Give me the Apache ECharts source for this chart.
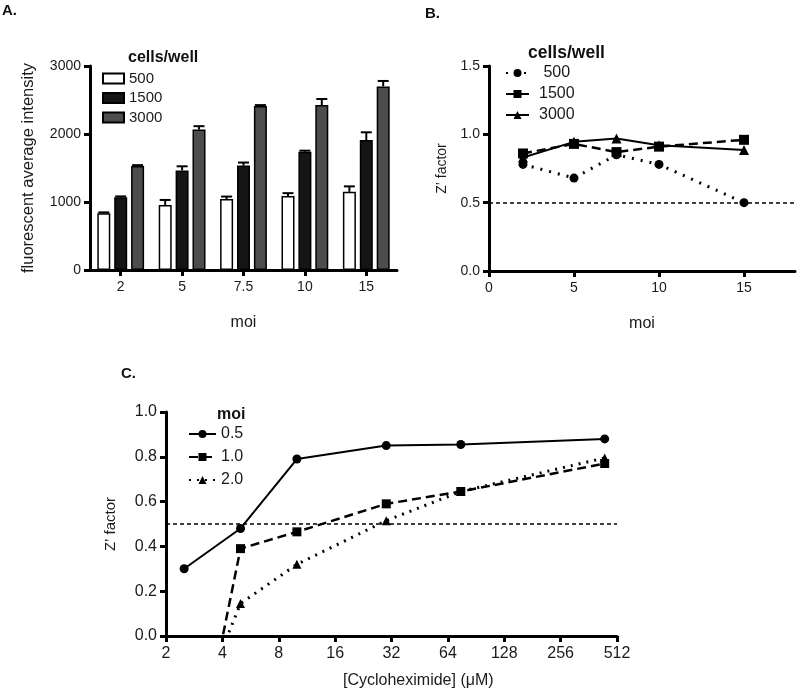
<!DOCTYPE html>
<html><head><meta charset="utf-8">
<script src="https://cdn.jsdelivr.net/npm/echarts@6/dist/echarts.min.js"></script>
<style>html,body{margin:0;padding:0;background:#fff}#c{width:800px;height:692px}</style>
</head><body><div id="c"></div>
<script>
// ---- Panel A data ----
const moiCats = ['2', '5', '7.5', '10', '15'];
const cellLabels = ['500', '1500', '3000'];
const bar500 = [835, 955, 1045, 1090, 1150];
const bar1500 = [1070, 1465, 1535, 1740, 1910];
const bar3000 = [1530, 2065, 2410, 2425, 2700];
const err500 = [12, 75, 35, 40, 80];
const err1500 = [12, 60, 45, 15, 115];
const err3000 = [12, 50, 15, 90, 80];
const yTicksA = [0, 1000, 2000, 3000];

// ---- Panel B data ----
const moiB = [2, 5, 7.5, 10, 15];
const zB500 = [0.78, 0.68, 0.85, 0.78, 0.50];
const zB1500 = [0.86, 0.93, 0.87, 0.91, 0.96];
const zB3000 = [0.83, 0.945, 0.97, 0.92, 0.885];
const xTicksB = [0, 5, 10, 15];

// ---- Panel C data ----
const moiLabels = ['0.5', '1.0', '2.0'];
const chx = [2.5, 5, 10, 30, 75, 440];
const zC05 = [0.30, 0.48, 0.79, 0.85, 0.855, 0.88];
const zC10 = [-0.85, 0.39, 0.465, 0.59, 0.645, 0.77];
const zC20 = [-0.48, 0.145, 0.32, 0.515, 0.645, 0.795];
const refZ = 0.5;

const FONT = '"Liberation Sans", Arial, Helvetica, sans-serif';
const TXT = '#1a1a1a';
const chart = echarts.init(document.getElementById('c'));

const axisLineStyle = { show: true, lineStyle: { color: '#000', width: 3 } };
const tickStyle = { show: true, length: 6, lineStyle: { color: '#000', width: 3 } };
const labelStyle = { fontSize: 14, color: TXT, fontFamily: FONT };
const labelStyleC = { fontSize: 16, color: TXT, fontFamily: FONT };
const nameStyle = { fontSize: 16, color: TXT, fontFamily: FONT };

const BAR_W = 13;
const BAR_GAP = 0.3;
const OFFS = [-(BAR_W * (1 + BAR_GAP)), 0, BAR_W * (1 + BAR_GAP)];

function errSeries(vals, errs, k) {
  return {
    type: 'custom', name: 'err' + k, xAxisIndex: 0, yAxisIndex: 0, z: 3,
    data: vals.map((v, i) => [i, v, errs[i]]),
    renderItem: function (params, api) {
      const top = api.coord([api.value(0), api.value(1) + api.value(2)]);
      const base = api.coord([api.value(0), api.value(1)]);
      const x = top[0] + OFFS[k];
      return { type: 'group', children: [
        { type: 'line', shape: { x1: x, y1: base[1], x2: x, y2: top[1] }, style: { stroke: '#000', lineWidth: 2 } },
        { type: 'line', shape: { x1: x - 5.5, y1: top[1], x2: x + 5.5, y2: top[1] }, style: { stroke: '#000', lineWidth: 2 } }
      ] };
    }
  };
}

function barSeries(name, vals, color) {
  return {
    type: 'bar', name: name, xAxisIndex: 0, yAxisIndex: 0, data: vals,
    barWidth: BAR_W, barGap: (BAR_GAP * 100) + '%',
    itemStyle: { color: color, borderColor: '#000', borderWidth: 1.5 }
  };
}

function lineSeries(name, xi, xs, ys, symbol, size, lineType, width) {
  return {
    type: 'line', name: name, xAxisIndex: xi, yAxisIndex: xi,
    data: xs.map((x, i) => [x, ys[i]]),
    symbol: symbol, symbolSize: size, showSymbol: true, clip: true,
    itemStyle: { color: '#000' },
    lineStyle: { color: '#000', width: width, type: lineType, cap: 'butt' }
  };
}

const refLine = {
  silent: true, symbol: ['none', 'none'], label: { show: false },
  lineStyle: { color: '#000', width: 1.5, type: [4, 3] },
  data: [{ yAxis: refZ }]
};

const nameMap = {
  a500: cellLabels[0], a1500: cellLabels[1], a3000: cellLabels[2],
  b500: ' ' + cellLabels[0], b1500: cellLabels[1], b3000: cellLabels[2],
  c05: moiLabels[0], c10: moiLabels[1], c20: moiLabels[2]
};
const legendText = { fontSize: 15, color: TXT, fontFamily: FONT };
const boldT = (s) => ({ fontSize: s, fontWeight: 'bold', color: '#111', fontFamily: FONT });

const sB500 = lineSeries('b500', 1, moiB, zB500, 'circle', 9, [2, 7], 3);
sB500.markLine = refLine;
const sC05 = lineSeries('c05', 2, chx, zC05, 'circle', 9, 'solid', 2);
sC05.markLine = refLine;

const option = {
  animation: false,
  backgroundColor: '#fff',
  textStyle: { fontFamily: FONT },
  title: [
    { text: 'A.', left: 2, top: 3, padding: 0, textStyle: boldT(15) },
    { text: 'B.', left: 425, top: 6, padding: 0, textStyle: boldT(15) },
    { text: 'C.', left: 121, top: 366, padding: 0, textStyle: boldT(15) },
    { text: 'cells/well', left: 128, top: 50, padding: 0, textStyle: boldT(16) },
    { text: 'cells/well', left: 528, top: 44, padding: 0, textStyle: boldT(17.5) },
    { text: 'moi', left: 217, top: 407, padding: 0, textStyle: boldT(16) }
  ],
  grid: [
    { left: 90, top: 66, width: 307, height: 204 },
    { left: 489, top: 66, width: 306, height: 205 },
    { left: 166, top: 412, width: 451, height: 224 }
  ],
  legend: [
    { data: ['a500', 'a1500', 'a3000'], orient: 'vertical', left: 102, top: 71, padding: 0, icon: 'rect',
      itemWidth: 21, itemHeight: 10, itemGap: 4.5,
      selectedMode: false, formatter: n => nameMap[n], textStyle: legendText },
    { data: ['b500', 'b1500', 'b3000'], orient: 'vertical', left: 505, top: 65, padding: 0,
      itemWidth: 23, itemHeight: 10, itemGap: 5,
      selectedMode: false, formatter: n => nameMap[n], textStyle: Object.assign({}, legendText, { fontSize: 16, padding: [0, 0, 0, 5] }) },
    { data: ['c05', 'c10', 'c20'], orient: 'vertical', left: 188, top: 426, padding: 0,
      itemWidth: 27, itemHeight: 10, itemGap: 7,
      selectedMode: false, formatter: n => nameMap[n], textStyle: Object.assign({}, legendText, { fontSize: 16 }) }
  ],
  xAxis: [
    { type: 'category', gridIndex: 0, data: moiCats,
      axisLine: axisLineStyle, axisTick: Object.assign({ alignWithLabel: true }, tickStyle),
      axisLabel: Object.assign({ margin: 10 }, labelStyle),
      name: 'moi', nameLocation: 'middle', nameGap: 45, nameTextStyle: nameStyle },
    { type: 'value', gridIndex: 1, min: 0, max: 18,
      axisLine: axisLineStyle, axisTick: Object.assign({ customValues: xTicksB }, tickStyle),
      axisLabel: Object.assign({ margin: 10, customValues: xTicksB }, labelStyle), splitLine: { show: false },
      name: 'moi', nameLocation: 'middle', nameGap: 45, nameTextStyle: nameStyle },
    { type: 'log', logBase: 2, gridIndex: 2, min: 2, max: 512,
      axisLine: axisLineStyle, axisTick: tickStyle, minorTick: { show: false },
      axisLabel: Object.assign({ margin: 10 }, labelStyleC), splitLine: { show: false } }
  ],
  yAxis: [
    { type: 'value', gridIndex: 0, min: yTicksA[0], max: yTicksA[yTicksA.length - 1], interval: 1000,
      axisLine: axisLineStyle, axisTick: tickStyle,
      axisLabel: Object.assign({ margin: 9, formatter: v => String(v) }, labelStyle),
      splitLine: { show: false },
      name: 'fluorescent average intensity', nameLocation: 'middle', nameGap: 53,
      nameTextStyle: Object.assign({}, nameStyle, { fontSize: 16.5 }) },
    { type: 'value', gridIndex: 1, min: 0, max: 1.5, interval: 0.5,
      axisLine: axisLineStyle, axisTick: tickStyle,
      axisLabel: Object.assign({ margin: 9, formatter: v => v.toFixed(1) }, labelStyle),
      splitLine: { show: false },
      name: 'Z\u2019 factor', nameLocation: 'middle', nameGap: 40,
      nameTextStyle: Object.assign({}, nameStyle, { fontSize: 14 }) },
    { type: 'value', gridIndex: 2, min: 0, max: 1, interval: 0.2,
      axisLine: axisLineStyle, axisTick: tickStyle,
      axisLabel: Object.assign({ margin: 9, formatter: v => v.toFixed(1) }, labelStyleC),
      splitLine: { show: false },
      name: 'Z\u2019 factor', nameLocation: 'middle', nameGap: 48,
      nameTextStyle: Object.assign({}, nameStyle, { fontSize: 15 }) }
  ],
  graphic: [
    { type: 'text', left: 343, top: 673, style: { text: '[Cycloheximide] (\u03bcM)', fontSize: 16, fill: TXT, fontFamily: FONT } }
  ],
  series: [
    barSeries('a500', bar500, '#ffffff'),
    barSeries('a1500', bar1500, '#151515'),
    barSeries('a3000', bar3000, '#4d4d4d'),
    errSeries(bar500, err500, 0),
    errSeries(bar1500, err1500, 1),
    errSeries(bar3000, err3000, 2),
    sB500,
    lineSeries('b1500', 1, moiB, zB1500, 'rect', 10, [9, 5], 2.5),
    lineSeries('b3000', 1, moiB, zB3000, 'triangle', 10, 'solid', 2),
    sC05,
    lineSeries('c10', 2, chx, zC10, 'rect', 9, [9, 5], 2.5),
    lineSeries('c20', 2, chx, zC20, 'triangle', 9, [2, 6], 3)
  ]
};
chart.setOption(option);
</script>
</body></html>
